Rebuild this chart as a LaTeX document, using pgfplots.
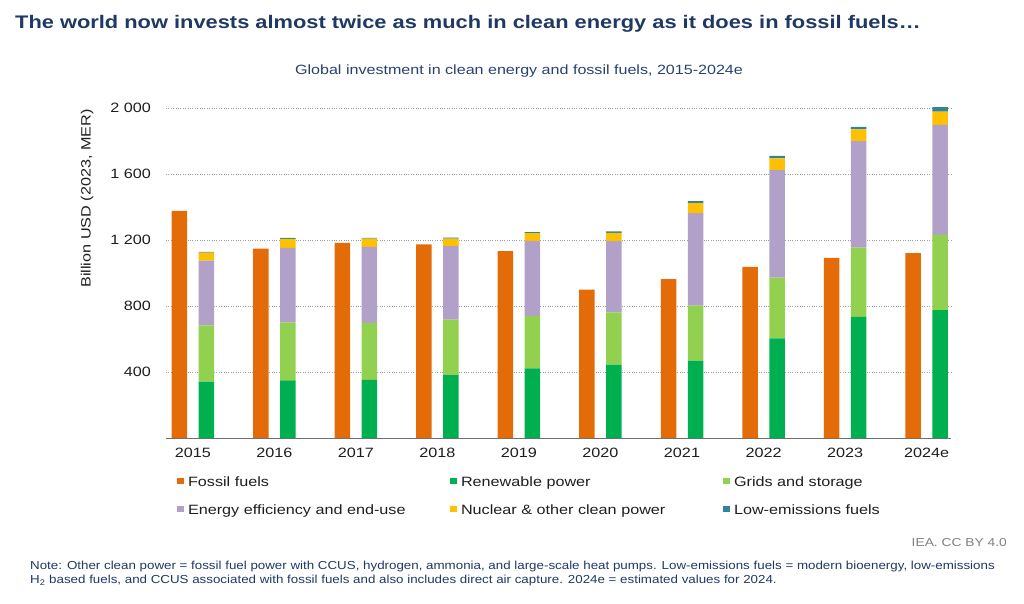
\documentclass[border=0pt]{standalone}
\usepackage{fontspec}
\setmainfont{Liberation Sans}[FakeStretch=1.2]
\newfontfamily\notefont{Liberation Sans}[FakeStretch=1.15]
\usepackage{pgfplots}
\pgfplotsset{compat=1.18}
\definecolor{fossil}{RGB}{227,108,9}
\definecolor{renew}{RGB}{0,176,80}
\definecolor{grids}{RGB}{146,208,80}
\definecolor{effic}{RGB}{177,160,199}
\definecolor{nucl}{RGB}{255,192,0}
\definecolor{lowem}{RGB}{49,133,155}
\definecolor{navy}{RGB}{31,56,100}
\definecolor{subnavy}{RGB}{40,66,110}
\definecolor{txt}{RGB}{30,30,30}
\newcommand\fs[2]{\fontsize{#1}{#2}\selectfont}
\pgfplotsset{
  sqlegend/.style={legend image code/.code={\fill[##1] (0pt,-3.3pt) rectangle (7pt,3.3pt);}},
  common/.style={
    width=785pt, height=331.65pt, scale only axis,
    xmin=-0.33, xmax=9.3, ymin=0, ymax=2010,
    at={(166pt,165pt)}, anchor=south west,
  }
}
\begin{document}
\begin{tikzpicture}
\path[use as bounding box] (0,0) rectangle (1024pt,603pt);
\begin{axis}[common,
  ybar, bar width=15.5pt,
  separate axis lines,
  axis x line*=bottom, axis y line*=left,
  y axis line style={draw=none},
  x axis line style={draw={rgb,255:red,110;green,110;blue,110}, line width=0.9pt},
  xtick={0,...,9},
  xticklabels={2015,2016,2017,2018,2019,2020,2021,2022,2023,2024e},
  ytick={400,800,1200,1600,2000},
  yticklabels={400,800,1 200,1 600,2 000},
  major tick length=0pt,
  xticklabel style={font=\fs{13.5}{16}, text=txt, inner sep=0pt, yshift=-10pt},
  yticklabel style={font=\fs{13.5}{16}, text=txt, inner sep=0pt, anchor=east, xshift=-15pt},
  ymajorgrids, grid style={dotted, line width=0.9pt, gray!75},
  ylabel={Billion USD (2023, MER)},
  every axis y label/.style={at={(axis description cs:-0.1006,0.722)}, rotate=90, anchor=center, font=\fs{13.5}{16}, text=txt},
]
\addplot[fill=fossil, draw=none, bar shift=-13.5pt] coordinates {
(0,1377) (1,1148) (2,1183) (3,1174) (4,1132) (5,899) (6,963) (7,1037) (8,1091) (9,1120)};
\end{axis}
\begin{axis}[common,
  ybar stacked, bar width=15.5pt, hide axis,
  legend columns=3,
  legend style={at={(axis description cs:0,0)}, anchor=north west, xshift=11pt, yshift=-38.3pt,
    draw=none, fill=none, inner sep=0pt, outer sep=0pt, row sep=18.3pt,
    font=\fs{13.5}{16}, text=txt,
    nodes={inner sep=0pt, text height=9.7pt, text depth=0pt, anchor=west},
    /tikz/every odd column/.append style={column sep=4pt},
    /tikz/every even column/.append style={column sep=0pt}},
]
\addlegendimage{sqlegend, fill=fossil, draw=none}
\addlegendentry{\makebox[262pt][l]{Fossil fuels}}
\addplot[sqlegend, fill=renew, draw=none, bar shift=13.5pt] coordinates {
(0,341) (1,349) (2,353) (3,381) (4,422) (5,444) (6,469) (7,604) (8,734) (9,775)};
\addlegendentry{\makebox[262pt][l]{Renewable power}}
\addplot[sqlegend, fill=grids, draw=none, bar shift=13.5pt] coordinates {
(0,341) (1,351) (2,345) (3,337) (4,318) (5,317) (6,334) (7,368) (8,420) (9,456)};
\addlegendentry{\makebox[262pt][l]{Grids and storage}}
\addplot[sqlegend, fill=effic, draw=none, bar shift=13.5pt] coordinates {
(0,393) (1,452) (2,460) (3,446) (4,455) (5,432) (6,560) (7,653) (8,645) (9,666)};
\addlegendentry{\makebox[262pt][l]{Energy efficiency and end-use}}
\addplot[sqlegend, fill=nucl, draw=none, bar shift=13.5pt] coordinates {
(0,49) (1,55) (2,51) (3,45) (4,46) (5,50) (6,61) (7,69) (8,71) (9,81)};
\addlegendentry{\makebox[262pt][l]{Nuclear \& other clean power}}
\addplot[sqlegend, fill=lowem, draw=none, bar shift=13.5pt] coordinates {
(0,4) (1,6) (2,4) (3,6) (4,6) (5,9) (6,12) (7,16) (8,16) (9,28)};
\addlegendentry{\makebox[262pt][l]{Low-emissions fuels}}
\end{axis}
\node[anchor=base west, inner sep=0pt, font=\bfseries\fs{18.2}{21}, text=navy] at (15pt,574.7pt)
  {The world now invests almost twice as much in clean energy as it does in fossil fuels…};
\node[anchor=base, inner sep=0pt, font=\fs{13.4}{16}, text=subnavy] at (519pt,528pt)
  {Global investment in clean energy and fossil fuels, 2015-2024e};
\node[anchor=base east, inner sep=0pt, font=\fs{11.5}{14}, text=gray] at (1007pt,57pt)
  {IEA. CC BY 4.0};
\node[anchor=base west, inner sep=0pt, align=left, font=\notefont\fs{11.6}{14}, text=navy] at (30pt,19.7pt)
  {Note: Other clean power = fossil fuel power with CCUS, hydrogen, ammonia, and large-scale heat pumps. Low-emissions fuels = modern bioenergy, low-emissions\\
   H\textsubscript{2} based fuels, and CCUS associated with fossil fuels and also includes direct air capture. 2024e = estimated values for 2024.};
\end{tikzpicture}
\end{document}
